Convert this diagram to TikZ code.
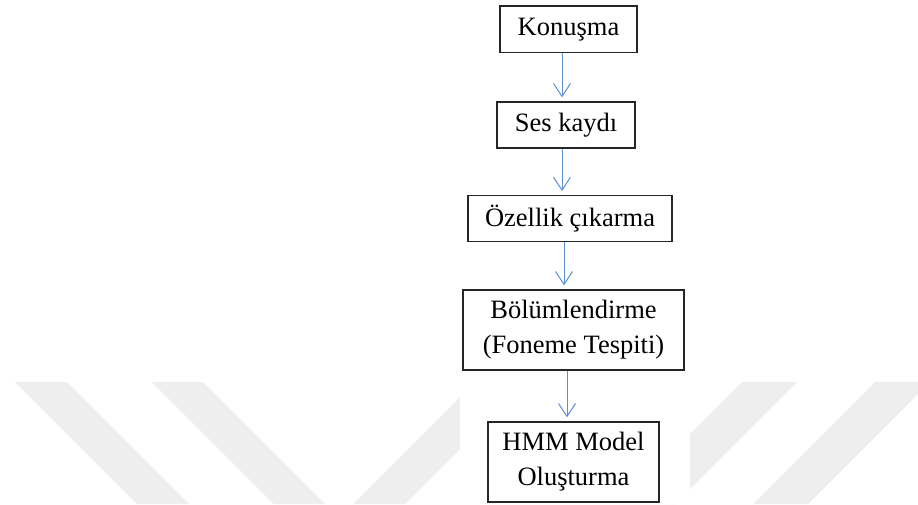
\documentclass[tikz,border=0pt]{standalone}
\usepackage{fontspec}
\setmainfont{Liberation Serif}
\usetikzlibrary{arrows.meta}

\definecolor{flowblue}{RGB}{91,143,213}
\definecolor{markgray}{RGB}{238,238,238}

\tikzset{
  stepbox/.style={draw=black!85, line width=1.3pt, fill=white, inner sep=0pt,
    align=center, font=\fontsize{26.5}{35}\selectfont},
  flowarrow/.style={draw=flowblue, line width=1pt,
    -{Straight Barb[length=13pt,width=17pt,line width=1pt]}, shorten >=4pt},
  markband/.style={fill=markgray, draw=none}
}

\begin{document}
\begin{tikzpicture}[x=1pt, y=-1pt]
  % page frame
  \useasboundingbox (0,0) rectangle (918,504);
  \fill[white] (0,0) rectangle (918,504);

  % faint diagonal bands in the lower part of the page
  \fill[markband] (15,382) -- (67,382) -- (189,504) -- (137,504) -- cycle;
  \fill[markband] (152,382) -- (203,382) -- (325,504) -- (274,504) -- cycle;
  \fill[markband] (475,382) -- (527,382) -- (405,504) -- (353,504) -- cycle;
  \fill[markband] (742,382) -- (797,382) -- (675,504) -- (620,504) -- cycle;
  \fill[markband] (875,382) -- (930,382) -- (808,504) -- (753,504) -- cycle;
  % white panel behind the flow chart
  \fill[white] (460,0) rectangle (690,504);

  % process steps
  \node[stepbox, minimum width=137pt, minimum height=46.5pt] (konusma) at (568.5,29.3) {Konuşma};
  \node[stepbox, minimum width=138pt, minimum height=46pt] (ses) at (566,125) {Ses kaydı};
  \node[stepbox, minimum width=204pt, minimum height=45.5pt] (ozellik) at (570,218.5) {Özellik çıkarma};
  \node[stepbox, minimum width=221pt, minimum height=80pt] (bolum) at (573.5,330) {Bölümlendirme\\(Foneme Tespiti)};
  \node[stepbox, minimum width=171pt, minimum height=80pt] (hmm) at (573.5,462) {HMM Model\\Oluşturma};

  % connectors
  \draw[flowarrow] ([xshift=-6.5pt]konusma.south) -- ([xshift=-4pt]ses.north);
  \draw[flowarrow] ([xshift=-4pt]ses.south) -- ([xshift=-8pt]ozellik.north);
  \draw[flowarrow] ([xshift=-6pt]ozellik.south) -- ([xshift=-9.5pt]bolum.north);
  \draw[flowarrow] ([xshift=-6.5pt]bolum.south) -- ([xshift=-6.5pt]hmm.north);
\end{tikzpicture}
\end{document}
